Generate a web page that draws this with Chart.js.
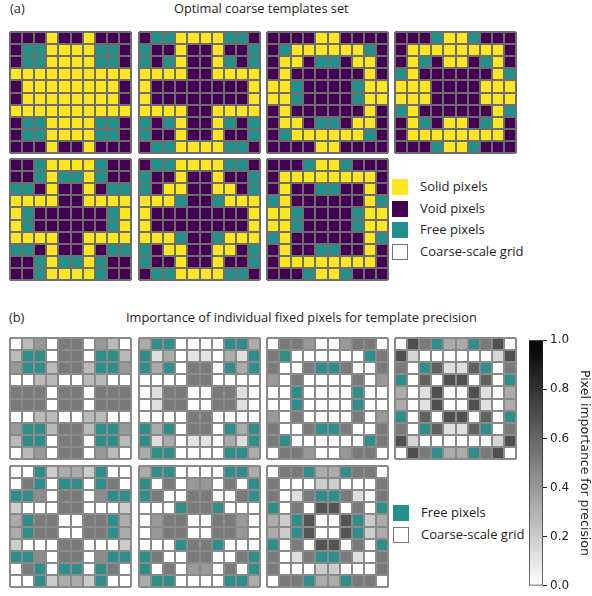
<!DOCTYPE html>
<html>
<head>
<meta charset="utf-8">
<script src="https://cdn.jsdelivr.net/npm/chart.js@4.4.1/dist/chart.umd.min.js"></script>
<style>
  body { margin: 0; width: 592px; height: 596px; position: relative; overflow: hidden; background: #fff;
         font-family: "Open Sans", "Noto Sans", sans-serif; color: #231f20; }
  canvas { position: absolute; }
  .txt { position: absolute; font-size: 12.8px; line-height: 13px; white-space: nowrap; }
  .sw { position: absolute; width: 16px; height: 16px; box-sizing: border-box; }
</style>
</head>
<body>
<div class="txt" style="left:10px;top:2px">(a)</div>
<div class="txt" style="left:174px;top:2px">Optimal coarse templates set</div>
<div class="txt" style="left:9px;top:311px">(b)</div>
<div class="txt" style="left:126px;top:311px">Importance of individual fixed pixels for template precision</div>

<div id="legendA"></div>
<div id="legendB"></div>

<script>
// ---- grid axes ----
const columns = ['1', '2', '3', '4', '5', '6', '7', '8', '9', '10'];
const rows = ['1', '2', '3', '4', '5', '6', '7', '8', '9', '10'];

// ---- coarse templates: S = solid, V = void, F = free ----
const templateA = [
  'VVVSVVSVVV', 'VFFSSSSFFV', 'VFFSSSSFFV', 'SSSSSSSSSS', 'VSSSSSSSSV',
  'VSSSSSSSSV', 'SSSSSSSSSS', 'VFFSSSSFFV', 'VFFSSSSFFV', 'VVVSVVSVVV'];
const templateB = [
  'VFFSSSSFFV', 'FVVSVVSVVF', 'FVFSVVSFVF', 'SSSSVVSSSS', 'SVVVVVVVVS',
  'SVVVVVVVVS', 'SSSSVVSSSS', 'FVFSVVSFVF', 'FVVSVVSVVF', 'VFFSSSSFFV'];
const templateC = [
  'VVVVSSVVVV', 'VFSSSSSSFV', 'VSSVFFVSSV', 'VSVVVVVVSV', 'SSFVVVVFSS',
  'SSFVVVVFSS', 'VSVVVVVVSV', 'VSSVFFVSSV', 'VFSSSSSSFV', 'VVVVSSVVVV'];
const templateD = [
  'VVVFSSFVVV', 'VSSSSSSSSV', 'VSFVSSVFSV', 'FSVVVVVVSF', 'SSSVVVVSSS',
  'SSSVVVVSSS', 'FSVVVVVVSF', 'VSFVSSVFSV', 'VSSSSSSSSV', 'VVVFSSFVVV'];
const templateE = [
  'VVFSSSSFVV', 'VVFSFFSFVV', 'FFVSVVSVFF', 'SSSSVVSSSS', 'SFVVVVVVFS',
  'SFVVVVVVFS', 'SSSSVVSSSS', 'FFVSVVSVFF', 'VVFSFFSFVV', 'VVFSSSSFVV'];
const templateF = [
  'VFFSSSSFFV', 'FVVSVVSVVF', 'FVSSVVSSVF', 'SSSFVVFSSS', 'SVVVVVVVVS',
  'SVVVVVVVVS', 'SSSFVVFSSS', 'FVSSVVSSVF', 'FVVSVVSVVF', 'VFFSSSSFFV'];
const templateG = [
  'VVVFSSFVVV', 'VSSSSSSSSV', 'VSVVFFVVSV', 'FSVVVVVVSF', 'SSFVVVVFSS',
  'SSFVVVVFSS', 'FSVVVVVVSF', 'VSVVFFVVSV', 'VSSSSSSSSV', 'VVVFSSFVVV'];

// ---- importance of each fixed pixel (null = free pixel) ----
const n = null;
const importanceA = [
  [0, .27, .40, 0, .52, .52, 0, .40, .27, 0],
  [.27, n, n, 0, .52, .52, 0, n, n, .27],
  [.40, n, n, .27, .52, .52, .27, n, n, .40],
  [0, 0, .27, .27, 0, 0, .27, .27, 0, 0],
  [.52, .52, .52, 0, .52, .52, 0, .52, .52, .52],
  [.52, .52, .52, 0, .52, .52, 0, .52, .52, .52],
  [0, 0, .27, .27, 0, 0, .27, .27, 0, 0],
  [.40, n, n, .27, .52, .52, .27, n, n, .40],
  [.27, n, n, 0, .52, .52, 0, n, n, .27],
  [0, .27, .40, 0, .52, .52, 0, .40, .27, 0]];
const importanceB = [
  [.33, n, n, 0, 0, 0, 0, n, n, .33],
  [n, .13, .33, 0, .11, .11, 0, .33, .13, n],
  [n, .33, n, 0, .52, .52, 0, n, .33, n],
  [0, 0, 0, 0, .52, .52, 0, 0, 0, 0],
  [0, .13, .52, .52, 0, 0, .52, .52, .13, 0],
  [0, .13, .52, .52, 0, 0, .52, .52, .13, 0],
  [0, 0, 0, 0, .52, .52, 0, 0, 0, 0],
  [n, .33, n, 0, .52, .52, 0, n, .33, n],
  [n, .13, .33, 0, .11, .11, 0, .33, .13, n],
  [.33, n, n, 0, 0, 0, 0, n, n, .33]];
const importanceC = [
  [0, .52, .52, .40, 0, 0, .40, .52, .52, 0],
  [.52, n, 0, 0, 0, 0, 0, 0, n, .52],
  [.52, 0, 0, .52, n, n, .52, 0, 0, .52],
  [.40, 0, .52, 0, 0, 0, 0, .52, 0, .40],
  [0, 0, n, 0, 0, 0, 0, n, 0, 0],
  [0, 0, n, 0, 0, 0, 0, n, 0, 0],
  [.40, 0, .52, 0, 0, 0, 0, .52, 0, .40],
  [.52, 0, 0, .52, n, n, .52, 0, 0, .52],
  [.52, n, 0, 0, 0, 0, 0, 0, n, .52],
  [0, .52, .52, .40, 0, 0, .40, .52, .52, 0]];
const importanceD = [
  [0, .69, .52, n, .33, .33, n, .52, .69, 0],
  [.69, .16, 0, 0, 0, 0, 0, 0, .16, .69],
  [.52, 0, n, .62, .12, .12, .62, n, 0, .52],
  [n, 0, .62, 0, .69, .69, 0, .62, 0, n],
  [.33, 0, .12, .69, 0, 0, .69, .12, 0, .33],
  [.33, 0, .12, .69, 0, 0, .69, .12, 0, .33],
  [n, 0, .62, 0, .69, .69, 0, .62, 0, n],
  [.52, 0, n, .62, .12, .12, .62, n, 0, .52],
  [.69, .16, 0, 0, 0, 0, 0, 0, .16, .69],
  [0, .69, .52, n, .33, .33, n, .52, .69, 0]];
const importanceE = [
  [0, 0, n, .20, .33, .33, .20, n, 0, 0],
  [0, .52, n, 0, n, n, 0, n, .52, 0],
  [n, n, .45, 0, .52, .52, 0, .45, n, n],
  [.20, 0, 0, 0, .52, .52, 0, 0, 0, .20],
  [.33, n, .52, .52, 0, 0, .52, .52, n, .33],
  [.33, n, .52, .52, 0, 0, .52, .52, n, .33],
  [.20, 0, 0, 0, .52, .52, 0, 0, 0, .20],
  [n, n, .45, 0, .52, .52, 0, .45, n, n],
  [0, .52, n, 0, n, n, 0, n, .52, 0],
  [0, 0, n, .20, .33, .33, .20, n, 0, 0]];
const importanceF = [
  [.33, n, n, 0, 0, 0, 0, n, n, .33],
  [n, 0, .52, 0, .40, .40, 0, .52, 0, n],
  [n, .52, 0, 0, .52, .52, 0, 0, .52, n],
  [0, 0, 0, n, .52, .52, n, 0, 0, 0],
  [0, .40, .52, .52, 0, 0, .52, .52, .40, 0],
  [0, .40, .52, .52, 0, 0, .52, .52, .40, 0],
  [0, 0, 0, n, .52, .52, n, 0, 0, 0],
  [n, .52, 0, 0, .52, .52, 0, 0, .52, n],
  [n, 0, .52, 0, .40, .40, 0, .52, 0, n],
  [.33, n, n, 0, 0, 0, 0, n, n, .33]];
const importanceG = [
  [0, .52, .52, n, .33, .33, n, .52, .52, 0],
  [.52, 0, 0, 0, .20, .20, 0, 0, 0, .52],
  [.52, 0, .13, .52, n, n, .52, .13, 0, .52],
  [n, 0, .52, 0, .67, .67, 0, .52, 0, n],
  [.33, .20, n, .67, 0, 0, .67, n, .20, .33],
  [.33, .20, n, .67, 0, 0, .67, n, .20, .33],
  [n, 0, .52, 0, .67, .67, 0, .52, 0, n],
  [.52, 0, .13, .52, n, n, .52, .13, 0, .52],
  [.52, 0, 0, 0, .20, .20, 0, 0, 0, .52],
  [0, .52, .52, n, .33, .33, n, .52, .52, 0]];

const colorbarTicks = [0, 0.2, 0.4, 0.6, 0.8, 1.0];

// ---- styling ----
const PIXEL_COLORS = { S: '#fde725', V: '#440154', F: '#21918c' };
const FREE_IN_B = '#2e8f8a';
const GRID_SIZE = 121;
const colX = [10, 139, 267, 395];

function importanceColor(v) {
  if (v === null) return FREE_IN_B;
  const g = Math.round(255 * (1 - v));
  return `rgb(${g},${g},${g})`;
}

function addCanvas(left, top, w, h) {
  const cv = document.createElement('canvas');
  cv.width = w; cv.height = h;
  cv.style.left = left + 'px'; cv.style.top = top + 'px';
  document.body.appendChild(cv);
  return cv;
}

// A 10x10 grid: one floating-bar dataset per row, every bar spans one row.
function drawGrid(left, top, cellColor, lineColor) {
  const cv = addCanvas(left - 2, top - 2, GRID_SIZE + 4, GRID_SIZE + 4);
  const datasets = rows.map((_, r) => ({
    data: columns.map(() => [r, r + 1]),
    backgroundColor: columns.map((_, c) => cellColor(r, c)),
    borderWidth: 0,
    barPercentage: 1,
    categoryPercentage: 1,
    grouped: false
  }));
  new Chart(cv, {
    type: 'bar',
    data: { labels: columns, datasets },
    options: {
      responsive: false, animation: false, events: [],
      layout: { padding: 2 },
      plugins: { legend: { display: false }, tooltip: { enabled: false } },
      scales: {
        x: { type: 'category', offset: true,
             ticks: { display: false },
             grid: { offset: true, color: lineColor, lineWidth: 2, drawTicks: false, z: 1 },
             border: { display: false } },
        y: { type: 'linear', min: 0, max: rows.length, reverse: true,
             ticks: { display: false, stepSize: 1 },
             grid: { color: lineColor, lineWidth: 2, drawTicks: false, z: 1 },
             border: { display: false } }
      }
    }
  });
}

// Panel (a)
const templatesA = [templateA, templateB, templateC, templateD, templateE, templateF, templateG];
const rowYA = [32, 159];
templatesA.forEach((t, i) => {
  const x = colX[i < 4 ? i : i - 4], y = rowYA[i < 4 ? 0 : 1];
  drawGrid(x, y, (r, c) => PIXEL_COLORS[t[r][c]], '#6e6e6e');
});

// Panel (b)
const importanceSets = [importanceA, importanceB, importanceC, importanceD, importanceE, importanceF, importanceG];
const rowYB = [338, 466];
importanceSets.forEach((m, i) => {
  const x = colX[i < 4 ? i : i - 4], y = rowYB[i < 4 ? 0 : 1];
  drawGrid(x, y, (r, c) => importanceColor(m[r][c]), '#8a8a8a');
});

// Legends
function legendItem(parent, x, y, fill, border, label) {
  const sw = document.createElement('div');
  sw.className = 'sw';
  sw.style.left = x + 'px'; sw.style.top = y + 'px';
  sw.style.background = fill;
  if (border) sw.style.border = '1px solid ' + border;
  parent.appendChild(sw);
  const t = document.createElement('div');
  t.className = 'txt';
  t.style.left = (x + 28) + 'px'; t.style.top = (y + 1) + 'px';
  t.style.fontSize = '13px';
  t.textContent = label;
  parent.appendChild(t);
}
const legA = document.getElementById('legendA');
legendItem(legA, 392, 179, PIXEL_COLORS.S, null, 'Solid pixels');
legendItem(legA, 392, 201, PIXEL_COLORS.V, null, 'Void pixels');
legendItem(legA, 392, 222, PIXEL_COLORS.F, null, 'Free pixels');
legendItem(legA, 392, 244, '#fff', '#777', 'Coarse-scale grid');
const legB = document.getElementById('legendB');
legendItem(legB, 393, 505, PIXEL_COLORS.F, null, 'Free pixels');
legendItem(legB, 393, 527, '#fff', '#777', 'Coarse-scale grid');

// Colorbar
const cb = addCanvas(525, 330, 67, 266);
new Chart(cb, {
  type: 'bar',
  data: {
    labels: [''],
    datasets: [{
      data: [[colorbarTicks[0], colorbarTicks[colorbarTicks.length - 1]]],
      backgroundColor: (ctx) => {
        const a = ctx.chart.chartArea;
        if (!a) return '#888';
        const g = ctx.chart.ctx.createLinearGradient(0, a.bottom, 0, a.top);
        g.addColorStop(0, '#ffffff');
        g.addColorStop(1, '#000000');
        return g;
      },
      borderColor: '#222', borderWidth: 1, borderSkipped: false,
      barPercentage: 1, categoryPercentage: 1
    }]
  },
  options: {
    responsive: false, animation: false, events: [],
    layout: { padding: { left: 4, top: 9, bottom: 9, right: 0 } },
    plugins: { legend: { display: false }, tooltip: { enabled: false } },
    scales: {
      x: { display: false },
      y: {
        position: 'right', min: 0, max: 1,
        afterBuildTicks: (s) => { s.ticks = colorbarTicks.map(v => ({ value: v })); },
        afterFit: (s) => { s.width = 49; },
        ticks: { callback: (v) => Number(v).toFixed(1), color: '#222', padding: 3,
                 font: { family: 'DejaVu Sans', size: 12 } },
        grid: { drawOnChartArea: false, drawTicks: true, tickLength: 4, color: '#222', lineWidth: 1 },
        border: { display: false },
        title: { display: true, text: 'Pixel importance for precision', color: '#222',
                 font: { family: 'DejaVu Sans', size: 12.5 }, padding: { top: 0, bottom: 0 } }
      }
    }
  }
});
</script>
</body>
</html>
